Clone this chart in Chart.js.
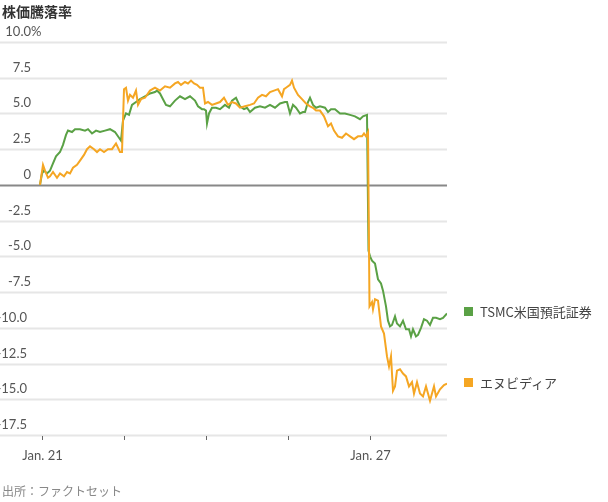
<!DOCTYPE html>
<html><head><meta charset="utf-8">
<script src="https://cdn.jsdelivr.net/npm/chart.js@4"></script>
<style>
body{margin:0;background:#fff;font-family:Lato,"Noto Sans CJK JP",sans-serif;}
#wrap{position:relative;width:608px;height:502px;}
canvas{position:absolute;left:0;top:0;}
.t{position:absolute;font-family:"Noto Sans CJK JP",sans-serif;}
.sw{display:inline-block;width:9px;height:9px;margin-right:7px;vertical-align:1px;}
</style></head><body>
<div id="wrap">
<canvas id="c" width="608" height="502"></canvas>
<div class="t" style="left:2px;top:1px;font-size:14px;font-weight:bold;color:#333">株価騰落率</div>
<div class="t" style="left:2px;top:482px;font-size:12px;color:#888">出所：ファクトセット</div>
<div class="t" style="left:464px;top:302px;font-size:13px;color:#444"><span class="sw" style="background:#5aa145"></span>TSMC米国預託証券</div>
<div class="t" style="left:464px;top:373px;font-size:13px;color:#444"><span class="sw" style="background:#f5a623"></span>エヌビディア</div>
</div>
<script>
const dayLabels=["Jan. 21","","","","Jan. 27"];
const yTicks=[10,7.5,5,2.5,0,-2.5,-5,-7.5,-10,-12.5,-15,-17.5];
const yTickLabels=["10.0","7.5","5.0","2.5","0","-2.5","-5.0","-7.5","-10.0","-12.5","-15.0","-17.5"];
const seriesNames=["TSMC米国預託証券","エヌビディア"];
const tsmcPx=[40,42,44,47,50,53,56,60,63,66,68,72,75,80,85,88,92,96,100,105,110,115,119,121,123,126,129,132,136,140,145,150,155,157,160,163,166,170,175,180,185,190,195,198,202,204,206,207,209,212,216,220,225,229,232,236,240,244,247,250,255,260,265,270,275,280,285,287,290,293,296,300,303,305,308,310,313,316,320,325,328,331,335,340,345,350,355,360,363,367,368.5,370,372,375,378,381,383,386,388,390,392,395,397,400,403,406,409,411,413,416,418,421,424,427,430,433,436,440,443,447];
const tsmcVal=[0,0.8,1.0,0.8,1.0,1.5,2.0,2.3,2.8,3.5,3.8,3.7,3.9,3.9,3.8,3.9,3.6,3.8,3.7,3.8,3.9,3.7,3.3,3.1,4.5,5.0,4.9,5.6,5.8,6.0,6.2,6.4,6.5,6.6,6.4,6.0,5.6,5.5,5.9,6.2,6.0,6.2,5.9,5.5,5.3,5.3,5.2,4.3,5.0,5.4,5.4,5.3,5.6,5.4,5.9,6.1,5.5,5.3,5.4,5.1,5.4,5.5,5.4,5.6,5.4,5.7,5.8,5.8,5.0,5.6,5.4,5.0,5.1,5.1,5.8,6.1,5.6,5.4,5.5,5.4,5.1,5.3,5.3,5.0,5.0,4.9,4.8,4.6,4.8,4.9,-4.6,-5.0,-5.3,-5.5,-6.6,-6.9,-7.4,-8.5,-9.5,-9.9,-9.8,-9.2,-9.7,-9.9,-9.5,-10.1,-10.1,-10.6,-10.1,-10.6,-10.5,-10.0,-9.4,-9.5,-9.8,-9.3,-9.3,-9.4,-9.3,-9.0];
const nvdaPx=[40,43,45,48,50,53,57,60,64,67,70,73,77,80,84,87,90,94,97,100,104,108,112,116,120,122,124,126,128,130,133,136,138,141,145,150,155,160,165,170,175,178,181,185,188,191,194,197,200,203,205,208,212,216,220,224,228,232,236,240,245,250,254,258,262,266,270,274,278,282,284,286,290,292,294,298,302,306,310,313,316,320,324,328,331,334,338,342,346,350,354,358,362,364,366,368,369.5,372,373,375,378,381,384,387,389,391,393,395,397,400,403,406,409,412,414,417,420,423,426,428,430,432,434,436,440,444,447];
const nvdaVal=[0,1.4,1.0,0.5,0.6,0.9,0.5,0.8,0.6,0.9,0.8,1.2,1.4,1.7,2.1,2.5,2.7,2.5,2.3,2.5,2.3,2.5,2.5,2.9,2.3,2.3,6.7,6.8,5.9,6.3,6.1,6.6,5.6,6.0,6.1,6.6,6.8,6.6,6.9,6.8,7.1,7.2,7.0,7.2,7.1,7.3,7.1,7.0,6.8,6.8,5.7,5.8,5.6,5.7,5.8,6.1,5.6,5.8,5.7,5.4,5.5,5.6,5.7,6.1,6.3,6.2,6.5,6.6,6.7,6.2,6.7,6.8,7.0,7.3,6.8,6.3,6.0,5.7,5.5,5.4,5.2,5.2,4.8,4.1,4.3,3.8,3.4,3.3,3.6,3.4,3.2,3.4,3.4,3.6,3.4,3.7,-8.5,-8.2,-8.7,-8.0,-8.1,-9.9,-10.4,-12.0,-12.7,-12.0,-14.4,-14.1,-13.0,-12.9,-13.2,-13.4,-14.1,-13.8,-14.6,-13.8,-14.6,-14.8,-14.1,-14.6,-15.1,-14.6,-14.1,-14.8,-14.3,-14.0,-13.9];
const toDay=p=>(p-42)/82;
const mk=(px,v)=>px.map((p,i)=>({x:toDay(p),y:v[i]}));
const axisPlugin={id:'axes',beforeDatasetsDraw(ch){
 const {ctx,chartArea:a,scales:{x,y}}=ch;ctx.save();
 yTicks.forEach((t,i)=>{const py=Math.round(y.getPixelForValue(t))+0.5;
  ctx.strokeStyle=t===0?'#888':'#e6e6e6';ctx.lineWidth=2;
  ctx.beginPath();ctx.moveTo(0,py);ctx.lineTo(a.right,py);ctx.stroke();
  ctx.fillStyle='#555';ctx.font='13px Lato, sans-serif';ctx.textBaseline='bottom';ctx.textAlign='right';
  const rx=t<=-10?27:31;
  ctx.fillText(yTickLabels[i],rx,py-4);
  if(i===0){ctx.textAlign='left';ctx.fillText('%',rx,py-4);}});
 dayLabels.forEach((l,i)=>{const px=Math.round(x.getPixelForValue(i))+0.5;
  ctx.strokeStyle='#666';ctx.lineWidth=1;ctx.beginPath();ctx.moveTo(px,a.bottom+1);ctx.lineTo(px,a.bottom+5);ctx.stroke();
  if(l){ctx.fillStyle='#555';ctx.font='13px Lato, sans-serif';ctx.textAlign='center';ctx.textBaseline='top';ctx.fillText(l,px,a.bottom+14);}});
 ctx.restore();}};
new Chart(document.getElementById('c'),{type:'line',
 data:{datasets:[
  {label:seriesNames[1],data:mk(nvdaPx,nvdaVal),borderColor:'#f5a623',borderWidth:2,pointRadius:0,tension:0},
  {label:seriesNames[0],data:mk(tsmcPx,tsmcVal),borderColor:'#5aa145',borderWidth:2,pointRadius:0,tension:0}]},
 options:{responsive:false,animation:false,events:[],
  layout:{padding:{left:0,right:161,top:42,bottom:67}},
  plugins:{legend:{display:false},tooltip:{enabled:false}},
  scales:{x:{type:'linear',display:false,min:-42/82,max:405/82},
          y:{display:false,min:-17.5,max:10}}},
 plugins:[axisPlugin]});
</script></body></html>
